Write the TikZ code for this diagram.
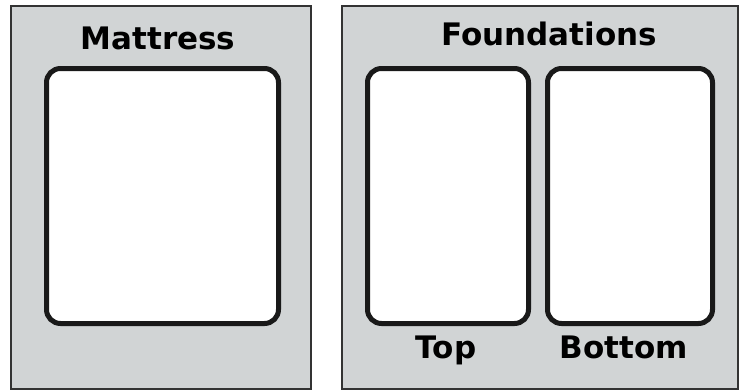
\documentclass[tikz,border=0pt]{standalone}
\usepackage{fontspec}
\setmainfont{DejaVu Sans}
\usepackage{xcolor}
\usetikzlibrary{positioning}

\definecolor{panelgray}{HTML}{D1D4D5}
\definecolor{edgegray}{HTML}{333333}

\begin{document}
\begin{tikzpicture}[x=1pt, y=-1pt,
    panel/.style={rectangle, draw=edgegray, line width=2.2pt, fill=panelgray, anchor=north west, inner sep=0pt},
    slot/.style={rectangle, rounded corners=14pt, draw=black!90, line width=5pt, fill=white, anchor=north west, inner sep=0pt},
    caption/.style={font=\bfseries\fontsize{31}{31}\selectfont, inner sep=0pt, anchor=base}
]
    \useasboundingbox (0,0) rectangle (746,391);
    % outer panels
    \node[panel, minimum width=300pt, minimum height=383pt] (mattpanel) at (10,5) {};
    \node[panel, minimum width=396pt, minimum height=383pt] (foundpanel) at (341,5) {};
    % inner slots
    \node[slot, minimum width=232pt, minimum height=255pt] (mattslot) at (44,66) {};
    \node[slot, minimum width=161pt, minimum height=255pt] (topslot) at (365,66) {};
    \node[slot, minimum width=165pt, minimum height=255pt] (bottomslot) at (545,66) {};
    % labels
    \node[caption] (matt) at (158,49) {Mattress};
    \node[caption] (found) at (549,45) {Foundations};
    \node[caption] (top) at (446,358) {Top};
    \node[caption] (bottom) at (624,358) {Bottom};
\end{tikzpicture}
\end{document}
